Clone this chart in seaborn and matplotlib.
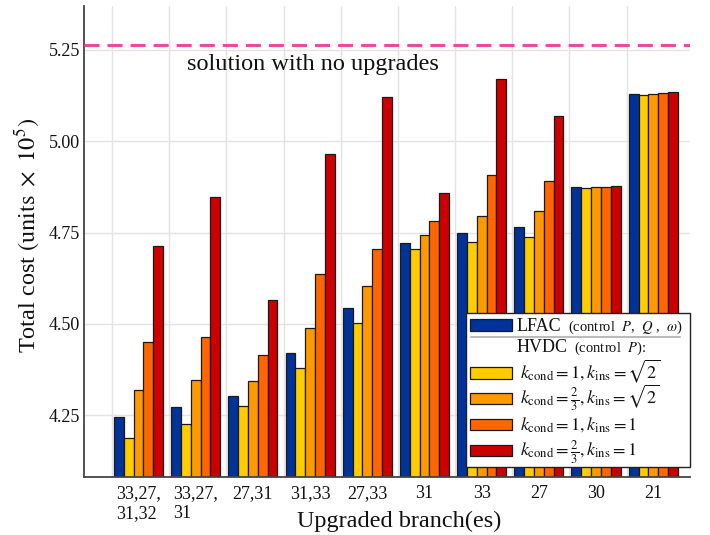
import matplotlib
matplotlib.use("Agg")
import matplotlib.pyplot as plt
import seaborn as sns
import pandas as pd
import numpy as np
from matplotlib.patches import Rectangle
from matplotlib.lines import Line2D

# ---------------- data ----------------
branches = ["33,27,\n31,32", "33,27,\n31", "27,31", "31,33", "27,33",
            "31", "33", "27", "30", "21"]
lfac = [4.244, 4.273, 4.304, 4.421, 4.543, 4.722, 4.749, 4.766, 4.876, 5.129]
hvdc_1_sqrt2 = [4.189, 4.225, 4.275, 4.380, 4.503, 4.705, 4.723, 4.739, 4.873, 5.126]
hvdc_23_sqrt2 = [4.320, 4.346, 4.345, 4.488, 4.605, 4.743, 4.796, 4.809, 4.876, 5.129]
hvdc_1_1 = [4.451, 4.465, 4.414, 4.637, 4.705, 4.781, 4.908, 4.891, 4.876, 5.132]
hvdc_23_1 = [4.714, 4.846, 4.566, 4.966, 5.121, 4.857, 5.170, 5.069, 4.878, 5.134]
no_upgrade_cost = 5.263

series_keys = ["LFAC", "H1", "H2", "H3", "H4"]
series_vals = [lfac, hvdc_1_sqrt2, hvdc_23_sqrt2, hvdc_1_1, hvdc_23_1]
colors = ["#003399", "#FFCC00", "#FF9900", "#FF6600", "#CC0000"]
hvdc_labels = [
    r"$k_{\mathrm{cond}}=1,k_{\mathrm{ins}}=\sqrt{2}$",
    r"$k_{\mathrm{cond}}=\frac{2}{3},k_{\mathrm{ins}}=\sqrt{2}$",
    r"$k_{\mathrm{cond}}=1,k_{\mathrm{ins}}=1$",
    r"$k_{\mathrm{cond}}=\frac{2}{3},k_{\mathrm{ins}}=1$",
]

rows = []
for key, vals in zip(series_keys, series_vals):
    for b, v in zip(branches, vals):
        rows.append({"branch": b, "cost": v, "series": key})
df = pd.DataFrame(rows)

# ---------------- style ----------------
sns.set_theme(style="white")
plt.rcParams["font.family"] = ["Liberation Serif", "DejaVu Serif"]
plt.rcParams["mathtext.fontset"] = "stix"
plt.rcParams["lines.scale_dashes"] = False

W, H = 710, 535
fig = plt.figure(figsize=(W / 100, H / 100), dpi=100)
ax_l, ax_r, ax_t, ax_b = 84, 690, 6, 477
ax = fig.add_axes([ax_l / W, (H - ax_b) / H, (ax_r - ax_l) / W, (ax_b - ax_t) / H])

sns.barplot(data=df, x="branch", y="cost", hue="series", order=branches,
            hue_order=series_keys, palette=colors, saturation=1, width=0.86,
            edgecolor="#1a1a1a", linewidth=0.9, ax=ax, legend=False)

ax.set_xlim(-0.953, 9.642)
ax.set_ylim(4.081, 5.370)
ax.set_yticks([4.25, 4.50, 4.75, 5.00, 5.25])
ax.set_yticklabels(["4.25", "4.50", "4.75", "5.00", "5.25"])

ax.set_xticks(np.arange(len(branches)))
ax.set_xticklabels(branches)
for t in ax.get_xticklabels():
    t.set_multialignment("left")
ax.set_xticks(np.arange(len(branches)) - 0.465, minor=True)

ax.tick_params(axis="x", which="major", length=0, labelsize=13, pad=6, colors="#111111")
ax.tick_params(axis="x", which="minor", length=5, direction="in", width=1.2, color="#555555")
ax.tick_params(axis="y", which="major", length=7, direction="in", width=1.0,
               color="#444444", labelsize=13, labelcolor="#111111", pad=3)

ax.grid(which="minor", axis="x", color="#e3e3e3", lw=1.0)
ax.grid(which="major", axis="y", color="#e3e3e3", lw=1.0)
ax.set_axisbelow(True)

for s in ["top", "right"]:
    ax.spines[s].set_visible(False)
for s in ["left", "bottom"]:
    ax.spines[s].set_color("#444444")
    ax.spines[s].set_linewidth(1.3)

ax.axhline(no_upgrade_cost, color="#EC4A9C", lw=2.2, dashes=(10.8, 5.8), zorder=5)
ax.text(3.056, 5.211, "solution with no upgrades", ha="center", va="center",
        fontsize=17.5, color="#111111")

ax.set_xlabel("Upgraded branch(es)", fontsize=17.5, color="#111111")
ax.xaxis.set_label_coords((399 - ax_l) / (ax_r - ax_l), -(511 - ax_b) / (ax_b - ax_t))
ax.set_ylabel(r"Total cost $\left(\mathrm{units}\ \times\ 10^5\right)$", fontsize=17.5,
              color="#111111")
ax.yaxis.set_label_coords(-(84 - 42) / (ax_r - ax_l), (ax_b - 235) / (ax_b - ax_t))

# ---------------- legend (laid out in figure pixels) ----------------
def fx(x):
    return x / W

def fy(y):
    return 1 - y / H

def add_rect(x0, y0, x1, y1, **kw):
    fig.add_artist(Rectangle((fx(x0), fy(y1)), (x1 - x0) / W, (y1 - y0) / H,
                             transform=fig.transFigure, **kw))

# frame
add_rect(466, 313.3, 690, 466.7, facecolor="white", edgecolor="#222222", lw=1.0, zorder=10)

patch_x0, patch_x1, patch_h = 470, 512.3, 11.5
row_centers = [324.8, 373.0, 398.5, 424.5, 450.7]
for c, yc in zip(colors, row_centers):
    add_rect(patch_x0, yc - patch_h / 2, patch_x1, yc + patch_h / 2,
             facecolor=c, edgecolor="#1a1a1a", lw=0.9, zorder=11)

fig.text(fx(516.7), fy(331.0), "LFAC", fontsize=13, ha="left", va="baseline",
         color="#111111", zorder=12)
fig.text(fx(567.5), fy(331.0), r"(control  $P$,  $Q$ ,  $\omega$)", fontsize=10.5,
         ha="left", va="baseline", color="#111111", zorder=12)
fig.text(fx(516.7), fy(351.5), "HVDC", fontsize=13, ha="left", va="baseline",
         color="#111111", zorder=12)
fig.text(fx(574.0), fy(351.5), r"(control  $P$):", fontsize=10.5, ha="left",
         va="baseline", color="#111111", zorder=12)
for lab, yc in zip(hvdc_labels, row_centers[1:]):
    fig.text(fx(520), fy(yc + 5.0), lab, fontsize=13, ha="left", va="baseline",
             color="#111111", zorder=12)

# separator line
fig.add_artist(Line2D([fx(471), fx(680)], [fy(337.0), fy(337.0)],
                      transform=fig.transFigure, color="#bbbbbb", lw=1.5, zorder=12))

fig.savefig("out.png", dpi=100)
